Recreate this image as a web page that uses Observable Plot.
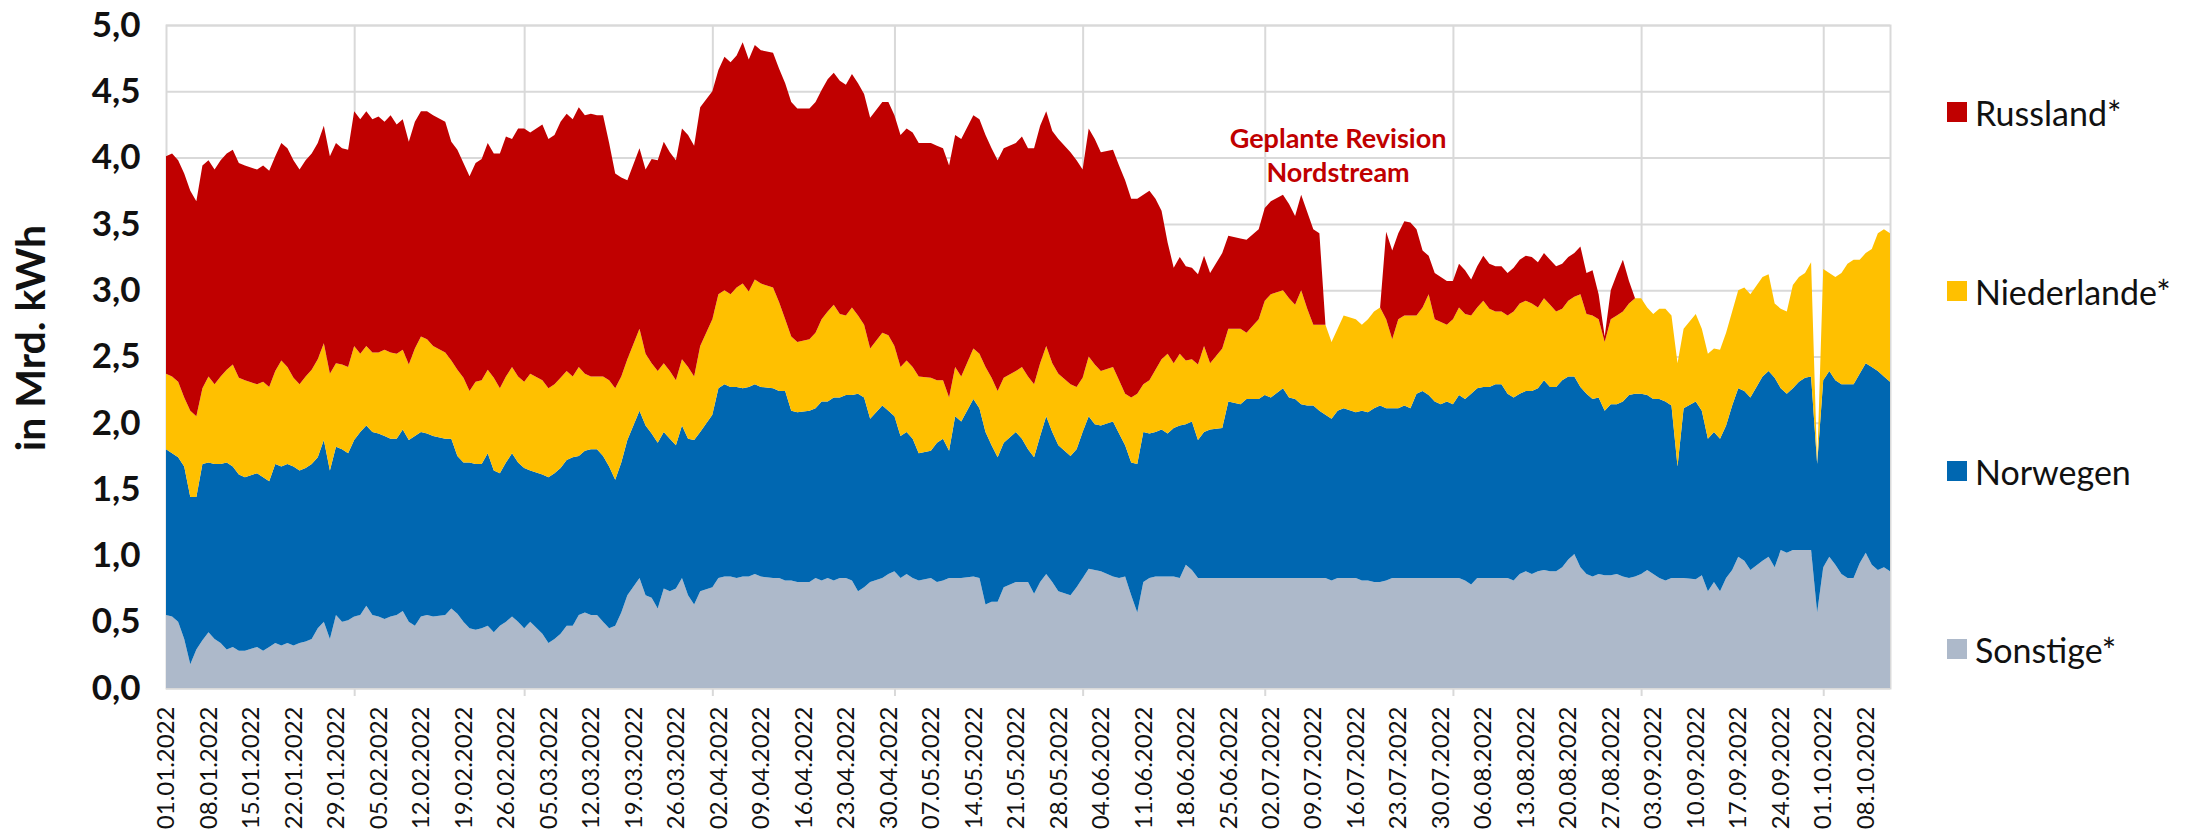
<!DOCTYPE html>
<html><head><meta charset="utf-8">
<script src="https://cdn.jsdelivr.net/npm/d3@7"></script>
<script src="https://cdn.jsdelivr.net/npm/@observablehq/plot@0.6"></script>
<style>
html,body{margin:0;padding:0;background:#fff;}
#wrap{position:relative;width:2194px;height:835px;font-family:Lato,"Open Sans",sans-serif;}
#chart{position:absolute;left:0;top:0;}
#legend{position:absolute;left:1947px;top:0;width:240px;height:835px;}
.item{position:absolute;left:0;height:40px;display:flex;align-items:center;white-space:nowrap;font-size:34px;color:#111;}
.sw{width:20px;height:20px;margin-right:8px;flex:none;}
</style></head><body>
<div id="wrap"><div id="chart"></div><div id="legend"></div></div>
<script>
const dates = [
"2022-01-01","2022-01-02","2022-01-03","2022-01-04","2022-01-05","2022-01-06","2022-01-07","2022-01-08","2022-01-09","2022-01-10","2022-01-11","2022-01-12","2022-01-13","2022-01-14","2022-01-16","2022-01-17","2022-01-18","2022-01-19","2022-01-20","2022-01-21","2022-01-22","2022-01-23","2022-01-24","2022-01-25","2022-01-26","2022-01-27","2022-01-28","2022-01-29","2022-01-30","2022-01-31",
"2022-02-01","2022-02-02","2022-02-03","2022-02-04","2022-02-05","2022-02-06","2022-02-07","2022-02-08","2022-02-09","2022-02-10","2022-02-11","2022-02-12","2022-02-13","2022-02-14","2022-02-16","2022-02-17","2022-02-18","2022-02-19","2022-02-20","2022-02-21","2022-02-22","2022-02-23","2022-02-24","2022-02-25","2022-02-26","2022-02-27","2022-02-28",
"2022-03-01","2022-03-02","2022-03-04","2022-03-05","2022-03-06","2022-03-07","2022-03-08","2022-03-09","2022-03-10","2022-03-11","2022-03-12","2022-03-13","2022-03-14","2022-03-15","2022-03-16","2022-03-17","2022-03-18","2022-03-20","2022-03-21","2022-03-22","2022-03-23","2022-03-24","2022-03-25","2022-03-26","2022-03-27","2022-03-28","2022-03-29","2022-03-30",
"2022-04-01","2022-04-02","2022-04-03","2022-04-04","2022-04-05","2022-04-06","2022-04-07","2022-04-08","2022-04-09","2022-04-11","2022-04-12","2022-04-13","2022-04-14","2022-04-15","2022-04-17","2022-04-18","2022-04-19","2022-04-20","2022-04-21","2022-04-22","2022-04-23","2022-04-24","2022-04-25","2022-04-26","2022-04-27","2022-04-29","2022-04-30",
"2022-05-01","2022-05-02","2022-05-03","2022-05-04","2022-05-05","2022-05-07","2022-05-08","2022-05-09","2022-05-10","2022-05-11","2022-05-12","2022-05-14","2022-05-15","2022-05-16","2022-05-17","2022-05-18","2022-05-19","2022-05-21","2022-05-22","2022-05-23","2022-05-24","2022-05-25","2022-05-26","2022-05-27","2022-05-28","2022-05-30","2022-05-31",
"2022-06-01","2022-06-02","2022-06-03","2022-06-04","2022-06-06","2022-06-07","2022-06-08","2022-06-09","2022-06-10","2022-06-11","2022-06-12","2022-06-13","2022-06-14","2022-06-15","2022-06-16","2022-06-17","2022-06-18","2022-06-19","2022-06-20","2022-06-21","2022-06-22","2022-06-24","2022-06-25","2022-06-27","2022-06-28","2022-06-30",
"2022-07-01","2022-07-02","2022-07-04","2022-07-05","2022-07-06","2022-07-07","2022-07-08","2022-07-09","2022-07-10","2022-07-11","2022-07-12","2022-07-13","2022-07-14","2022-07-16","2022-07-17","2022-07-18","2022-07-19","2022-07-20","2022-07-21","2022-07-22","2022-07-23","2022-07-24","2022-07-25","2022-07-26","2022-07-27","2022-07-28","2022-07-29","2022-07-30","2022-07-31",
"2022-08-01","2022-08-02","2022-08-03","2022-08-04","2022-08-05","2022-08-06","2022-08-07","2022-08-08","2022-08-09","2022-08-10","2022-08-11","2022-08-12","2022-08-13","2022-08-14","2022-08-15","2022-08-16","2022-08-17","2022-08-18","2022-08-19","2022-08-20","2022-08-21","2022-08-22","2022-08-23","2022-08-24","2022-08-25","2022-08-26","2022-08-27","2022-08-28","2022-08-29","2022-08-30","2022-08-31",
"2022-09-01","2022-09-02","2022-09-03","2022-09-04","2022-09-05","2022-09-06","2022-09-07","2022-09-08","2022-09-10","2022-09-11","2022-09-12","2022-09-13","2022-09-14","2022-09-15","2022-09-16","2022-09-17","2022-09-18","2022-09-19","2022-09-21","2022-09-22","2022-09-23","2022-09-24","2022-09-25","2022-09-26","2022-09-27","2022-09-28","2022-09-29","2022-09-30",
"2022-10-01","2022-10-02","2022-10-03","2022-10-04","2022-10-05","2022-10-06","2022-10-07","2022-10-08","2022-10-09","2022-10-10","2022-10-11","2022-10-12"
];

// Werte in Mrd. kWh je Herkunft
const sonstige = [
.55,.54,.50,.37,.18,.29,.36,.42,.37,.34,.29,.31,.28,.28,.31,.28,.31,.34,.32,.34,.32,.34,.35,.37,.45,.50,.37,.55,.50,.51,
.54,.55,.62,.55,.54,.52,.54,.55,.58,.50,.47,.54,.55,.54,.55,.60,.56,.50,.45,.44,.45,.47,.42,.47,.50,.54,.50,
.45,.50,.41,.34,.37,.41,.47,.47,.55,.57,.55,.55,.50,.45,.47,.57,.70,.83,.70,.68,.60,.75,.73,.75,.83,.70,.63,.73,
.76,.83,.84,.84,.83,.84,.84,.86,.84,.83,.83,.81,.81,.80,.80,.83,.81,.83,.81,.83,.83,.81,.73,.76,.80,.83,.86,
.88,.83,.86,.83,.81,.83,.80,.81,.83,.83,.83,.84,.83,.63,.65,.65,.76,.80,.80,.80,.71,.80,.86,.80,.73,.70,.76,
.83,.90,.89,.88,.84,.83,.84,.70,.57,.80,.83,.84,.84,.84,.84,.83,.93,.89,.83,.83,.83,.83,.83,.83,.83,.83,
.83,.83,.83,.83,.83,.83,.83,.83,.83,.83,.81,.83,.83,.83,.81,.81,.80,.80,.81,.83,.83,.83,.83,.83,.83,.83,.83,.83,.83,
.83,.83,.81,.78,.83,.83,.83,.83,.83,.83,.81,.86,.88,.86,.88,.89,.88,.88,.91,.97,1.01,.91,.86,.84,.86,.85,.85,.86,.84,.83,.84,
.86,.89,.86,.83,.81,.83,.83,.83,.82,.85,.73,.80,.73,.83,.89,.99,.96,.89,.96,.99,.91,1.04,1.02,1.04,1.04,1.04,1.04,.57,
.91,.99,.93,.86,.83,.83,.94,1.02,.93,.89,.91,.88
];
const norwegen = [
1.25,1.23,1.24,1.30,1.26,1.15,1.33,1.28,1.32,1.35,1.41,1.36,1.33,1.31,1.31,1.31,1.25,1.35,1.35,1.35,1.35,1.30,1.31,1.32,1.29,1.37,1.27,1.27,1.30,1.26,
1.33,1.38,1.36,1.38,1.38,1.38,1.34,1.33,1.37,1.37,1.43,1.39,1.37,1.36,1.33,1.28,1.19,1.20,1.25,1.25,1.24,1.30,1.22,1.15,1.20,1.23,1.20,
1.21,1.14,1.20,1.25,1.25,1.25,1.25,1.27,1.20,1.22,1.25,1.25,1.25,1.22,1.10,1.13,1.17,1.26,1.28,1.24,1.25,1.18,1.15,1.08,1.15,1.18,1.24,1.20,
1.30,1.43,1.45,1.43,1.44,1.42,1.43,1.43,1.43,1.43,1.41,1.43,1.28,1.28,1.29,1.28,1.35,1.33,1.38,1.36,1.38,1.40,1.49,1.43,1.23,1.30,1.23,
1.17,1.07,1.07,1.05,.96,.96,1.05,1.07,.96,1.22,1.18,1.34,1.28,1.30,1.18,1.09,1.09,1.13,1.08,1.00,1.03,1.10,1.19,1.13,1.10,1.05,1.04,
1.10,1.15,1.10,1.10,1.17,1.09,.99,1.00,1.12,1.13,1.09,1.09,1.11,1.08,1.12,1.15,1.06,1.12,1.04,1.10,1.12,1.13,1.33,1.31,1.35,1.35,
1.38,1.36,1.43,1.36,1.35,1.31,1.30,1.30,1.26,1.23,1.22,1.26,1.28,1.25,1.28,1.27,1.31,1.33,1.30,1.28,1.28,1.30,1.28,1.39,1.41,1.38,1.33,1.31,1.33,
1.31,1.38,1.37,1.44,1.43,1.44,1.44,1.46,1.46,1.39,1.38,1.36,1.36,1.38,1.38,1.43,1.39,1.39,1.41,1.38,1.34,1.36,1.36,1.34,1.33,1.24,1.29,1.28,1.32,1.38,1.38,
1.36,1.32,1.32,1.35,1.35,1.30,.84,1.28,1.34,1.24,1.15,1.13,1.15,1.15,1.24,1.27,1.28,1.30,1.39,1.40,1.43,1.22,1.20,1.22,1.27,1.30,1.31,1.12,
1.41,1.40,1.39,1.43,1.46,1.46,1.43,1.43,1.49,1.50,1.44,1.43
];
const niederlande = [
.57,.58,.57,.52,.65,.61,.57,.65,.60,.66,.70,.77,.73,.73,.67,.72,.71,.70,.80,.73,.67,.65,.69,.71,.74,.73,.73,.63,.64,.65,
.71,.59,.60,.60,.61,.65,.65,.64,.60,.57,.66,.72,.71,.68,.65,.59,.65,.64,.54,.62,.63,.63,.70,.64,.65,.65,.65,
.65,.73,.71,.67,.67,.68,.67,.61,.67,.58,.55,.55,.60,.65,.69,.65,.61,.62,.54,.53,.54,.52,.51,.49,.50,.54,.48,.65,
.72,.71,.71,.70,.75,.79,.72,.79,.78,.76,.67,.54,.56,.53,.54,.57,.62,.68,.70,.63,.60,.66,.59,.55,.53,.55,.57,
.53,.52,.54,.54,.58,.55,.47,.44,.40,.37,.34,.38,.41,.49,.51,.50,.49,.46,.54,.55,.55,.55,.53,.52,.54,.54,.47,
.41,.45,.45,.41,.41,.40,.39,.49,.53,.36,.40,.47,.53,.60,.49,.54,.48,.47,.57,.65,.50,.60,.55,.57,.50,.60,
.71,.78,.74,.75,.71,.86,.73,.61,.65,.68,.58,.62,.70,.70,.65,.70,.73,.74,.67,.52,.67,.68,.70,.59,.63,.76,.62,.62,.58,
.64,.66,.64,.59,.61,.65,.59,.55,.55,.59,.65,.68,.68,.66,.61,.62,.62,.57,.54,.57,.60,.70,.60,.63,.59,.52,.64,.67,.68,.69,.72,
.72,.66,.64,.68,.70,.68,.78,.60,.66,.62,.64,.63,.67,.70,.71,.74,.78,.78,.75,.73,.56,.60,.62,.78,.79,.79,.86,0,
.84,.74,.78,.84,.91,.94,.86,.83,.89,1.04,1.11,1.12
];
const russland = [
1.64,1.68,1.67,1.69,1.66,1.62,1.68,1.63,1.62,1.63,1.63,1.62,1.62,1.62,1.62,1.63,1.63,1.62,1.64,1.65,1.64,1.62,1.63,1.63,1.63,1.64,1.64,1.66,1.63,1.64,
1.77,1.77,1.77,1.76,1.78,1.72,1.79,1.73,1.74,1.68,1.71,1.70,1.72,1.74,1.74,1.65,1.66,1.62,1.62,1.65,1.67,1.71,1.69,1.77,1.81,1.72,1.87,
1.91,1.82,1.93,1.88,1.88,1.93,1.94,1.94,1.96,1.95,1.98,1.97,1.97,1.79,1.62,1.50,1.35,1.36,1.39,1.54,1.59,1.67,1.65,1.66,1.74,1.75,1.74,1.80,
1.72,1.69,1.76,1.75,1.75,1.82,1.75,1.77,1.76,1.77,1.76,1.78,1.77,1.76,1.74,1.74,1.73,1.75,1.75,1.76,1.74,1.76,1.75,1.74,1.74,1.74,1.76,
1.74,1.75,1.75,1.77,1.76,1.77,1.77,1.75,1.75,1.75,1.79,1.76,1.77,1.75,1.73,1.74,1.73,1.72,1.74,1.72,1.78,1.79,1.77,1.75,1.77,1.75,1.71,
1.57,1.72,1.70,1.65,1.64,1.62,1.61,1.50,1.47,1.43,1.43,1.29,1.12,.84,.72,.73,.71,.69,.68,.68,.68,.72,.70,.68,.70,.68,
.70,.70,.72,.71,.67,.72,.73,.72,.69,0,0,0,0,0,0,0,0,0,.66,.67,.65,.71,.70,.65,.43,.29,.35,.34,.33,
.29,.33,.33,.27,.31,.34,.34,.34,.34,.32,.33,.33,.34,.35,.34,.34,.34,.34,.34,.33,.33,.36,.31,.34,.19,.04,.22,.31,.39,.17,0,
0,0,0,0,0,0,0,0,0,0,0,0,0,0,0,0,0,0,0,0,0,0,0,0,0,0,0,0,
0,0,0,0,0,0,0,0,0,0,0,0
];

const seriesNames = ["Sonstige*", "Norwegen", "Niederlande*", "Russland*"];   // Stapelreihenfolge (unten -> oben)
const seriesColors = ["#ADB9CA", "#0067B1", "#FFC000", "#C00000"];
const legendNames = ["Russland*", "Niederlande*", "Norwegen", "Sonstige*"];
const yTicks = [0, 0.5, 1, 1.5, 2, 2.5, 3, 3.5, 4, 4.5, 5];
const xTickDates = [
"2022-01-01","2022-01-08","2022-01-15","2022-01-22","2022-01-29","2022-02-05","2022-02-12","2022-02-19","2022-02-26",
"2022-03-05","2022-03-12","2022-03-19","2022-03-26","2022-04-02","2022-04-09","2022-04-16","2022-04-23","2022-04-30",
"2022-05-07","2022-05-14","2022-05-21","2022-05-28","2022-06-04","2022-06-11","2022-06-18","2022-06-25","2022-07-02",
"2022-07-09","2022-07-16","2022-07-23","2022-07-30","2022-08-06","2022-08-13","2022-08-20","2022-08-27","2022-09-03",
"2022-09-10","2022-09-17","2022-09-24","2022-10-01","2022-10-08"
];
const monthGridDates = ["2022-02-01","2022-03-01","2022-04-01","2022-05-01","2022-06-01","2022-07-01","2022-08-01","2022-09-01","2022-10-01"];
const annotations = [{date: "2022-07-13", value: 4.03, label: "Geplante Revision\nNordstream"}];

const parse = d3.utcParse("%Y-%m-%d");
const seriesValues = [sonstige, norwegen, niederlande, russland];
seriesValues.forEach((v, k) => { if (v.length !== dates.length) throw new Error(seriesNames[k] + " length " + v.length + " vs " + dates.length); });
const rows = [];
seriesNames.forEach((name, k) => dates.forEach((d, i) => rows.push({date: parse(d), series: name, value: seriesValues[k][i]})));

const chart = Plot.plot({
  width: 2194, height: 835,
  marginTop: 25, marginBottom: 147, marginLeft: 166, marginRight: 304,
  style: {fontFamily: "Lato, 'Open Sans', sans-serif", background: "#fff", color: "#000"},
  x: {type: "utc", domain: [parse(dates[0]), parse(dates[dates.length - 1])], label: null},
  y: {domain: [0, 5], label: null},
  color: {domain: seriesNames, range: seriesColors},
  marks: [
    Plot.gridY(yTicks, {stroke: "#d9d9d9", strokeOpacity: 1, strokeWidth: 2}),
    Plot.gridX(monthGridDates.map(parse), {stroke: "#d9d9d9", strokeOpacity: 1, strokeWidth: 2}),
    Plot.frame({stroke: "#d9d9d9", strokeWidth: 2}),
    Plot.areaY(rows, {x: "date", y: "value", z: "series", fill: "series", order: seriesNames, curve: "linear"}),
    Plot.axisY({ticks: yTicks, tickFormat: d => d.toFixed(1).replace(".", ","), tickSize: 0, tickPadding: 26,
      fontSize: 35, fontWeight: "bold", fill: "#111", label: null}),
    Plot.axisX({ticks: monthGridDates.map(parse), tickSize: 8, tickFormat: () => "", stroke: "#d9d9d9", strokeWidth: 2, label: null}),
    Plot.axisX({ticks: xTickDates.map(parse), tickFormat: d3.utcFormat("%d.%m.%Y"), tickRotate: -90, tickSize: 0,
      tickPadding: 18, fontSize: 24, fill: "#111", label: null}),
    Plot.text(["in Mrd. kWh"], {text: d => d, frameAnchor: "left", textAnchor: "middle", rotate: -90, dx: -135, dy: -19,
      fontSize: 41, fontWeight: "bold", fill: "#111"}),
    Plot.text(annotations, {x: d => parse(d.date), y: "value", text: "label", fill: "#C00000",
      fontSize: 27, fontWeight: "bold", lineHeight: 1.25})
  ]
});
document.getElementById("chart").appendChild(chart);

// Legende rechts
const legendCenters = [112, 291, 471, 649];
const legend = document.getElementById("legend");
legendNames.forEach((name, i) => {
  const item = document.createElement("div");
  item.className = "item";
  item.style.top = (legendCenters[i] - 20) + "px";
  const sw = document.createElement("span");
  sw.className = "sw";
  sw.style.background = seriesColors[seriesNames.indexOf(name)];
  item.appendChild(sw);
  item.appendChild(document.createTextNode(name));
  legend.appendChild(item);
});
</script>
</body></html>
